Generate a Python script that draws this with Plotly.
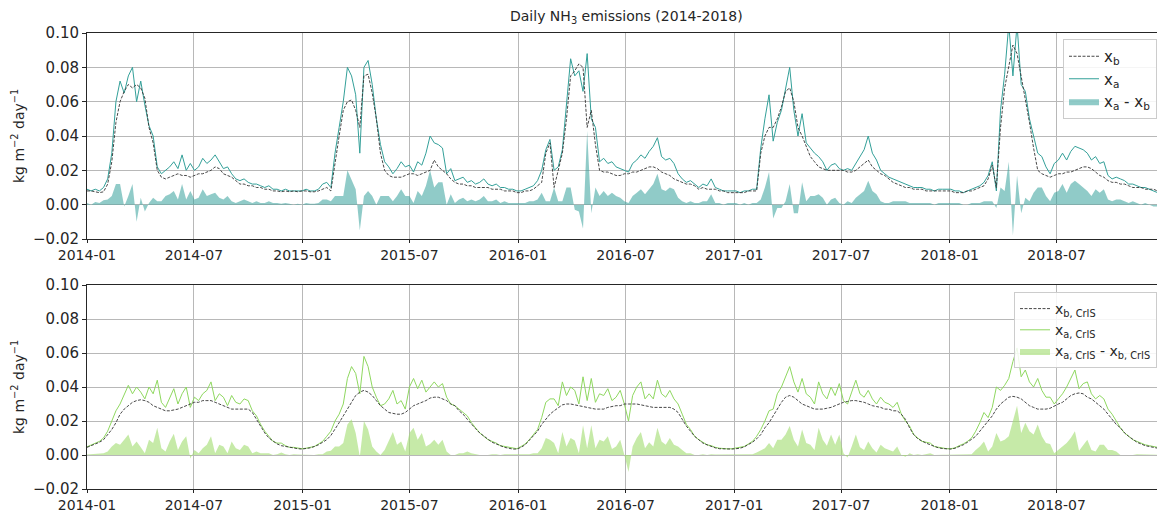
import pandas as pd
import plotly.graph_objects as go

# ---------------- data (weekly readings, 2014-01-01 onwards) ----------------
xb_2014 = [.008,.008,.0075,.007,.0075,.012,.025,.048,.060,.066,.070,.068,.070,.068,.062,.045,.036,.020,.016,.015,.016,.017,.018,.017,.017,.016,.017,.018,.018,.019,.020,.022,.021,.018,.017,.016,.014,.012,.012,.011,.011,.010,.010,.009,.009,.008,.008,.0075,.008,.0075,.008,.0075]
xb_2015 = [.008,.008,.0075,.0075,.008,.009,.010,.008,.025,.040,.055,.060,.061,.055,.045,.075,.076,.065,.050,.030,.020,.017,.016,.016,.016,.017,.018,.018,.017,.018,.019,.020,.026,.022,.020,.018,.015,.013,.012,.012,.011,.011,.010,.010,.010,.010,.009,.009,.009,.008,.008,.008]
xb_2016 = [.007,.007,.008,.008,.009,.011,.013,.030,.036,.010,.020,.030,.050,.075,.078,.082,.080,.045,.055,.035,.020,.019,.019,.018,.017,.017,.018,.018,.019,.019,.020,.021,.022,.022,.021,.019,.018,.017,.015,.014,.013,.012,.012,.011,.009,.010,.009,.009,.009,.008,.008,.007]
xb_2017 = [.007,.007,.007,.007,.008,.008,.008,.030,.040,.045,.045,.050,.057,.066,.068,.060,.045,.040,.034,.028,.025,.022,.021,.020,.020,.020,.020,.020,.019,.019,.020,.022,.024,.026,.022,.020,.018,.017,.015,.013,.012,.011,.010,.010,.009,.009,.009,.008,.008,.008,.008,.008]
xb_2018 = [.008,.008,.007,.007,.007,.008,.008,.009,.010,.011,.015,.023,.010,.045,.068,.080,.093,.088,.075,.062,.048,.033,.020,.018,.017,.016,.017,.018,.018,.019,.019,.020,.021,.022,.022,.021,.019,.017,.016,.014,.013,.013,.012,.012,.011,.010,.010,.010,.009,.009,.009,.008,.008]

xa_2014 = [.009,.008,.009,.008,.010,.015,.030,.060,.072,.065,.075,.080,.060,.072,.058,.046,.040,.022,.018,.020,.022,.025,.021,.029,.020,.024,.020,.022,.027,.024,.026,.029,.025,.021,.022,.018,.015,.014,.015,.013,.012,.012,.011,.010,.011,.009,.009,.008,.009,.008,.008,.008]
xa_2015 = [.008,.009,.008,.008,.009,.012,.013,.010,.030,.045,.060,.080,.075,.064,.030,.080,.084,.070,.050,.035,.025,.022,.018,.021,.025,.022,.023,.019,.025,.023,.030,.040,.036,.035,.033,.018,.021,.014,.015,.016,.013,.014,.012,.013,.015,.012,.011,.012,.010,.010,.009,.009]
xa_2016 = [.008,.008,.009,.010,.011,.014,.020,.032,.038,.020,.022,.032,.060,.085,.075,.078,.066,.088,.050,.045,.025,.027,.024,.025,.022,.021,.020,.019,.024,.026,.029,.027,.031,.034,.039,.028,.026,.027,.024,.018,.015,.013,.014,.012,.010,.012,.011,.015,.010,.009,.008,.008]
xa_2017 = [.008,.008,.007,.008,.008,.009,.009,.033,.050,.064,.037,.048,.055,.068,.080,.055,.040,.053,.036,.033,.030,.028,.025,.020,.023,.024,.021,.020,.021,.020,.024,.028,.032,.040,.030,.026,.020,.018,.016,.015,.014,.013,.012,.011,.010,.010,.010,.009,.009,.008,.009,.009]
xa_2018 = [.009,.009,.008,.008,.007,.008,.009,.010,.011,.013,.017,.025,.008,.055,.076,.105,.075,.105,.070,.066,.050,.040,.030,.028,.022,.018,.024,.026,.030,.026,.031,.034,.033,.032,.030,.026,.028,.024,.025,.017,.015,.016,.015,.014,.012,.012,.011,.010,.010,.009,.008,.007,.008]

xbc_2014 = [.0045,.0055,.0065,.0075,.009,.012,.015,.019,.024,.027,.029,.031,.032,.0325,.032,.031,.029,.028,.027,.026,.026,.0265,.027,.028,.029,.030,.031,.031,.032,.032,.032,.031,.030,.029,.028,.027,.027,.027,.027,.027,.025,.021,.017,.013,.010,.008,.0065,.0055,.005,.0045,.004,.0037]
xbc_2015 = [.0035,.0038,.0042,.005,.006,.0075,.009,.0115,.015,.019,.023,.027,.031,.035,.037,.038,.037,.035,.032,.029,.027,.025,.0245,.024,.024,.025,.027,.029,.030,.031,.032,.0335,.034,.034,.033,.032,.030,.029,.026,.024,.021,.018,.0155,.013,.011,.009,.0075,.0065,.0055,.0045,.004,.0035]
xbc_2016 = [.0035,.0045,.006,.0085,.011,.014,.018,.021,.024,.026,.028,.0295,.030,.030,.0295,.029,.0285,.028,.0275,.027,.027,.027,.028,.0285,.029,.029,.030,.030,.030,.030,.0295,.029,.0285,.028,.028,.028,.028,.028,.027,.025,.021,.017,.014,.011,.009,.007,.006,.005,.0042,.0037,.0035,.0035]
xbc_2017 = [.0035,.0037,.004,.0048,.006,.0075,.0095,.012,.016,.019,.023,.027,.031,.034,.035,.034,.032,.030,.029,.028,.027,.027,.027,.0275,.028,.029,.030,.031,.0315,.032,.032,.0315,.031,.030,.029,.0285,.028,.027,.027,.026,.026,.024,.021,.016,.012,.0095,.008,.007,.006,.005,.0042,.0038]
xbc_2018 = [.0035,.0035,.004,.005,.006,.0075,.0095,.011,.014,.017,.020,.023,.027,.030,.032,.034,.0345,.034,.033,.031,.029,.028,.027,.027,.027,.0275,.029,.030,.031,.033,.035,.036,.0365,.036,.034,.033,.031,.029,.027,.024,.021,.018,.016,.013,.011,.009,.0075,.0065,.0055,.005,.0045,.004,.004]

xac_2014 = [.0048,.006,.007,.008,.010,.014,.020,.026,.030,.036,.041,.036,.040,.037,.033,.040,.036,.044,.031,.028,.034,.039,.030,.036,.040,.028,.034,.032,.036,.038,.043,.032,.036,.034,.029,.035,.031,.030,.033,.032,.026,.023,.018,.014,.011,.008,.007,.007,.0055,.0045,.0045,.004]
xac_2015 = [.0037,.004,.0045,.005,.0065,.008,.011,.014,.020,.024,.030,.045,.052,.048,.036,.058,.052,.040,.034,.029,.030,.033,.038,.030,.032,.027,.040,.045,.039,.044,.037,.040,.043,.040,.042,.034,.030,.029,.027,.025,.023,.019,.016,.013,.011,.009,.008,.007,.0055,.005,.0045,.004]
xac_2016 = [.0037,.005,.0065,.009,.012,.015,.022,.031,.033,.033,.029,.043,.035,.040,.038,.030,.046,.032,.045,.031,.036,.035,.039,.032,.034,.038,.030,.020,.035,.040,.043,.033,.036,.033,.044,.036,.034,.038,.033,.030,.024,.018,.015,.011,.009,.0075,.006,.0055,.0045,.004,.0037,.0036]
xac_2017 = [.0037,.004,.0045,.005,.0065,.008,.011,.015,.020,.026,.027,.036,.040,.046,.052,.043,.037,.045,.036,.034,.030,.043,.036,.033,.040,.035,.042,.032,.030,.037,.044,.036,.034,.038,.033,.030,.034,.031,.030,.028,.031,.024,.020,.017,.012,.010,.008,.0075,.007,.005,.0045,.004]
xac_2018 = [.0037,.0037,.0042,.0055,.0065,.008,.010,.014,.019,.025,.022,.028,.040,.038,.041,.045,.055,.063,.046,.050,.043,.040,.045,.038,.034,.034,.030,.033,.036,.040,.045,.050,.039,.042,.043,.036,.033,.035,.033,.027,.024,.020,.016,.013,.011,.009,.008,.007,.006,.0055,.005,.0042,.004]

xb_top = xb_2014 + xb_2015 + xb_2016 + xb_2017 + xb_2018
xa_top = xa_2014 + xa_2015 + xa_2016 + xa_2017 + xa_2018
xb_cris = xbc_2014 + xbc_2015 + xbc_2016 + xbc_2017 + xbc_2018
xa_cris = xac_2014 + xac_2015 + xac_2016 + xac_2017 + xac_2018

START = "2014-01-01"
X_END = "2018-12-18"
YEAR_TICK_FMT = "%Y-%m"


def dates(n):
    return pd.date_range(START, periods=n, freq="7D")


def pair(a, b):
    n = min(len(a), len(b))
    return dates(n), a[:n], b[:n], [a[i] - b[i] for i in range(n)]


TEAL = "#33a099"
TEAL_FILL = "rgba(53,161,155,0.55)"
GREEN = "#8fd860"
GREEN_FILL = "rgba(160,220,110,0.6)"
DASH = "#333333"

fig = go.Figure()

d1, xa1, xb1, diff1 = pair(xa_top, xb_top)
d2, xa2, xb2, diff2 = pair(xa_cris, xb_cris)

# top panel
fig.add_trace(go.Scatter(x=d1, y=diff1, fill="tozeroy", mode="lines",
                         line=dict(width=0, color=TEAL_FILL), fillcolor=TEAL_FILL,
                         name="x<sub>a</sub> - x<sub>b</sub>", legend="legend", legendrank=3,
                         xaxis="x", yaxis="y"))
fig.add_trace(go.Scatter(x=d1, y=xa1, mode="lines", line=dict(width=1, color=TEAL),
                         name="x<sub>a</sub>", legend="legend", legendrank=2, xaxis="x", yaxis="y"))
fig.add_trace(go.Scatter(x=d1, y=xb1, mode="lines", line=dict(width=0.9, color=DASH, dash="3px,1.5px"),
                         name="x<sub>b</sub>", legend="legend", legendrank=1, xaxis="x", yaxis="y"))

# bottom panel
fig.add_trace(go.Scatter(x=d2, y=diff2, fill="tozeroy", mode="lines",
                         line=dict(width=0, color=GREEN_FILL), fillcolor=GREEN_FILL,
                         name="x<sub>a, CrIS</sub> - x<sub>b, CrIS</sub>", legend="legend2", legendrank=3,
                         xaxis="x2", yaxis="y2"))
fig.add_trace(go.Scatter(x=d2, y=xa2, mode="lines", line=dict(width=1, color=GREEN),
                         name="x<sub>a, CrIS</sub>", legend="legend2", legendrank=2, xaxis="x2", yaxis="y2"))
fig.add_trace(go.Scatter(x=d2, y=xb2, mode="lines", line=dict(width=0.9, color=DASH, dash="3px,1.5px"),
                         name="x<sub>b, CrIS</sub>", legend="legend2", legendrank=1, xaxis="x2", yaxis="y2"))

YTICKFONT = dict(family="DejaVu Sans", size=15, color="#262626")
XTICKFONT = dict(family="DejaVu Sans", size=14, color="#262626")

xcommon = dict(type="date", range=[START, X_END], tickformat=YEAR_TICK_FMT, dtick="M6", tick0=START,
               showgrid=True, gridcolor="#b8b8b8", gridwidth=1, showline=True, linecolor="#262626",
               linewidth=1, mirror=True, ticks="outside", ticklen=3, tickcolor="#262626",
               tickfont=XTICKFONT, zeroline=False, automargin=False)
ycommon = dict(range=[-0.02, 0.10], dtick=0.02, tick0=0, tickformat=".2f", showgrid=True,
               gridcolor="#b8b8b8", gridwidth=1, showline=True, linecolor="#262626", linewidth=1,
               mirror=True, ticks="outside", ticklen=4, tickcolor="#262626", tickfont=YTICKFONT,
               zeroline=False, automargin=False)

M_T, M_B = 33, 25
H_PLOT = 514 - M_T - M_B
top_lo = 1 - 206 / H_PLOT
bot_hi = (514 - M_B - 285) / H_PLOT

fig.update_layout(
    width=1157, height=514,
    margin=dict(l=87, r=0, t=M_T, b=M_B, autoexpand=False),
    paper_bgcolor="white", plot_bgcolor="white",
    font=dict(family="DejaVu Sans", size=13, color="#262626"),
    showlegend=True,
    xaxis=dict(domain=[0, 1], anchor="y", **xcommon),
    yaxis=dict(domain=[top_lo, 1], anchor="x", **ycommon),
    xaxis2=dict(domain=[0, 1], anchor="y2", **xcommon),
    yaxis2=dict(domain=[0, bot_hi], anchor="x2", **ycommon),
    legend=dict(x=1, y=(514 - M_B - 39) / H_PLOT, xanchor="right", yanchor="top",
                bgcolor="rgba(255,255,255,0.85)", bordercolor="#cccccc", borderwidth=1,
                font=dict(family="DejaVu Sans", size=15, color="#262626"), tracegroupgap=2,
                itemwidth=30),
    legend2=dict(x=1, y=(514 - M_B - 292) / H_PLOT, xanchor="right", yanchor="top",
                 bgcolor="rgba(255,255,255,0.85)", bordercolor="#cccccc", borderwidth=1,
                 font=dict(family="DejaVu Sans", size=14, color="#262626"), tracegroupgap=2,
                 itemwidth=30),
    annotations=[
        dict(text="Daily NH<sub>3</sub> emissions (2014-2018)", xref="paper", yref="paper",
             x=(626 - 87) / 1070, y=1 + 16 / H_PLOT, xanchor="center", yanchor="middle",
             showarrow=False, font=dict(family="DejaVu Sans", size=14, color="#262626")),
        dict(text="kg m<sup>−2</sup> day<sup>−1</sup>", xref="paper", yref="paper",
             x=(18 - 87) / 1070, y=(top_lo + 1) / 2, xanchor="center", yanchor="middle",
             textangle=-90, showarrow=False, font=dict(family="DejaVu Sans", size=14, color="#262626")),
        dict(text="kg m<sup>−2</sup> day<sup>−1</sup>", xref="paper", yref="paper",
             x=(18 - 87) / 1070, y=bot_hi / 2, xanchor="center", yanchor="middle",
             textangle=-90, showarrow=False, font=dict(family="DejaVu Sans", size=14, color="#262626")),
    ],
)

fig.write_html("out.html", config={"displayModeBar": False},
               post_script="document.body.style.margin='0';document.body.style.padding='0';")
